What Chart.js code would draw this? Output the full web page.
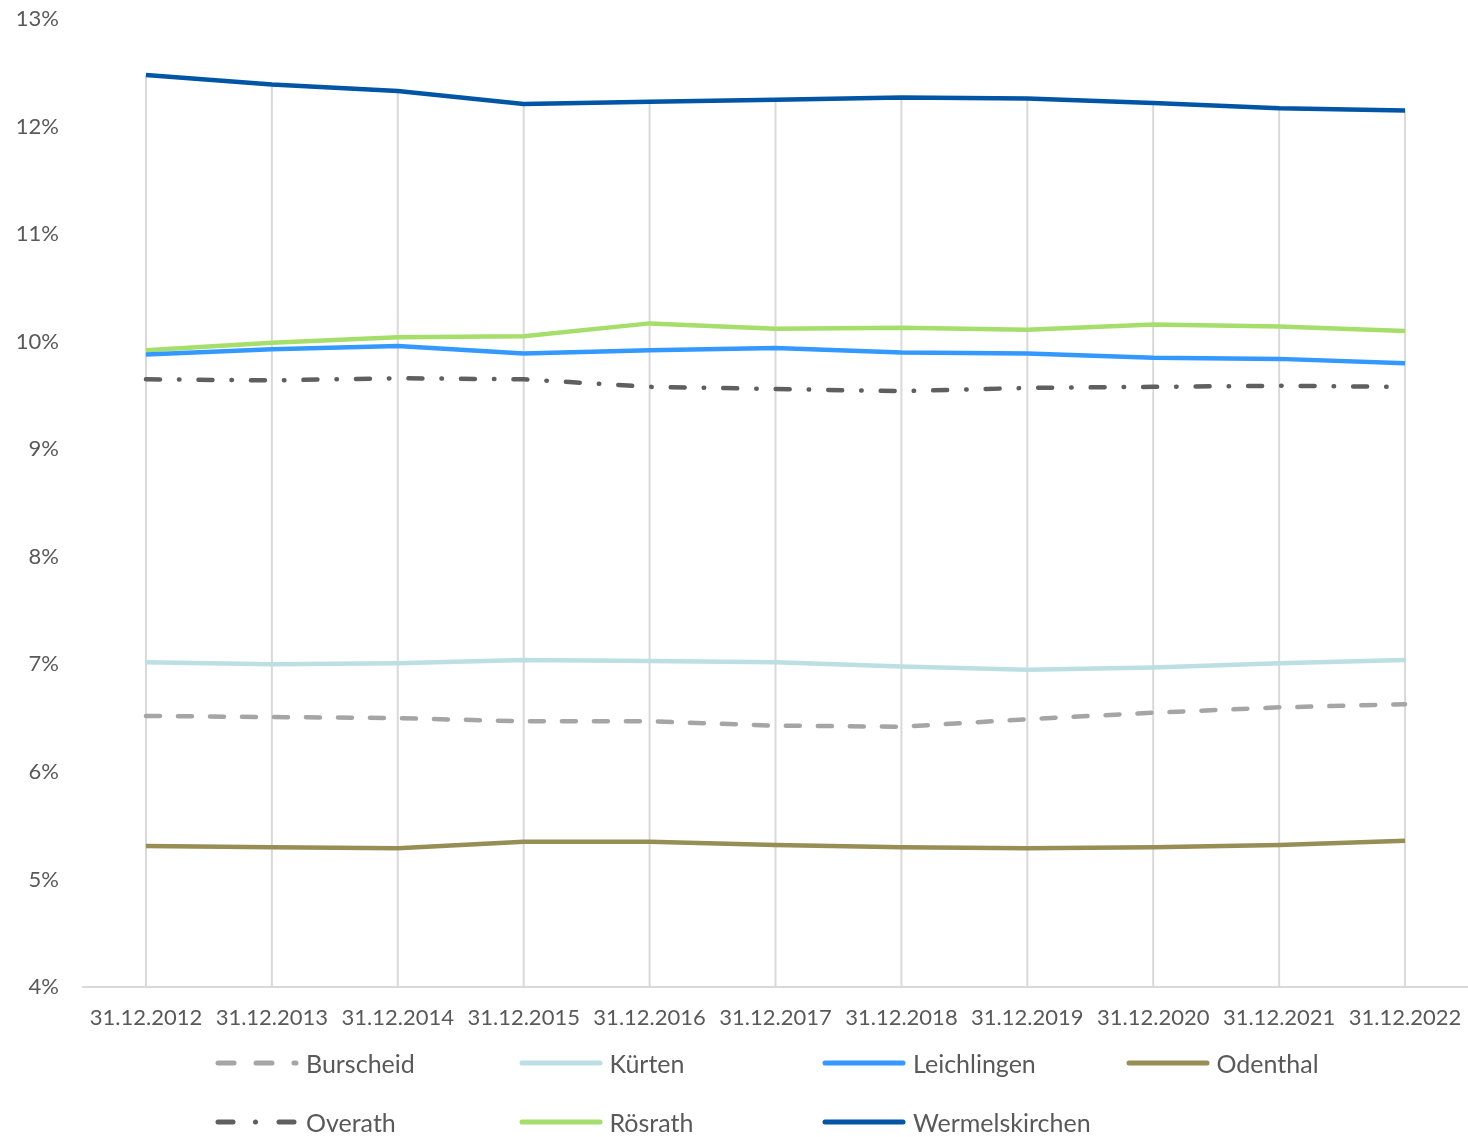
<!DOCTYPE html>
<html lang="de">
<head>
<meta charset="UTF-8">
<title>Anteil je Kommune</title>
<script src="https://cdn.jsdelivr.net/npm/chart.js"></script>
<style>
  html, body { margin: 0; padding: 0; background: #fff; }
  #wrap { position: relative; width: 1468px; height: 1137px; }
  #legend { position: absolute; left: 0; top: 0; width: 1468px; height: 1137px; pointer-events: none;
            font-family: Lato, sans-serif; font-size: 25px; color: #595959; }
  .item { position: absolute; display: flex; align-items: center; height: 30px; white-space: nowrap; }
  .item svg { margin-right: 7px; }
</style>
</head>
<body>
<div id="wrap">
  <canvas id="lineChart" width="1468" height="1137"></canvas>
  <div id="legend"></div>
</div>
<script>
// Stichtage
const labels = ['31.12.2012', '31.12.2013', '31.12.2014', '31.12.2015', '31.12.2016', '31.12.2017',
                '31.12.2018', '31.12.2019', '31.12.2020', '31.12.2021', '31.12.2022'];

// Werte in %
const burscheid      = [6.52, 6.51, 6.50, 6.47, 6.47, 6.43, 6.42, 6.49, 6.55, 6.60, 6.63];
const kuerten        = [7.02, 7.00, 7.01, 7.04, 7.03, 7.02, 6.98, 6.95, 6.97, 7.01, 7.04];
const leichlingen    = [9.88, 9.93, 9.96, 9.89, 9.92, 9.94, 9.90, 9.89, 9.85, 9.84, 9.80];
const odenthal       = [5.31, 5.30, 5.29, 5.35, 5.35, 5.32, 5.30, 5.29, 5.30, 5.32, 5.36];
const overath        = [9.65, 9.64, 9.66, 9.65, 9.58, 9.56, 9.54, 9.57, 9.58, 9.59, 9.58];
const roesrath       = [9.92, 9.99, 10.04, 10.05, 10.17, 10.12, 10.13, 10.11, 10.16, 10.14, 10.10];
const wermelskirchen = [12.48, 12.39, 12.33, 12.21, 12.23, 12.25, 12.27, 12.26, 12.22, 12.17, 12.15];

const yTicks = [4, 5, 6, 7, 8, 9, 10, 11, 12, 13];

const series = [
  { label: 'Burscheid', data: burscheid, color: '#A5A5A5', dash: [14, 18], legendDash: [16, 22] },
  { label: 'Kürten', data: kuerten, color: '#BBDFE3', dash: [] },
  { label: 'Leichlingen', data: leichlingen, color: '#3399FF', dash: [] },
  { label: 'Odenthal', data: odenthal, color: '#968E55', dash: [] },
  { label: 'Overath', data: overath, color: '#5F5F5F', dash: [14, 19, 0.5, 19], legendDash: [15, 22.5, 0.01, 23.5] },
  { label: 'Rösrath', data: roesrath, color: '#A5DE6A', dash: [] },
  { label: 'Wermelskirchen', data: wermelskirchen, color: '#0055A5', dash: [] },
];

// Lotlinien vom höchsten Punkt bis zur Achse (wie in Excel)
const dropLines = {
  id: 'dropLines',
  beforeDatasetsDraw(chart) {
    const { ctx, chartArea, scales } = chart;
    ctx.save();
    ctx.strokeStyle = '#D9D9D9';
    ctx.lineWidth = 2;
    labels.forEach((l, i) => {
      const top = Math.max(...series.map(s => s.data[i]));
      const x = scales.x.getPixelForValue(i);
      ctx.beginPath();
      ctx.moveTo(x, scales.y.getPixelForValue(top));
      ctx.lineTo(x, chartArea.bottom);
      ctx.stroke();
    });
    ctx.restore();
  }
};

const tickFont = { family: 'Lato', size: 22 };

new Chart(document.getElementById('lineChart').getContext('2d'), {
  type: 'line',
  data: {
    labels: labels,
    datasets: series.map(s => ({
      label: s.label,
      data: s.data,
      borderColor: s.color,
      backgroundColor: s.color,
      borderWidth: 4.5,
      borderDash: s.dash,
      borderCapStyle: s.dash.length ? 'round' : 'butt',
      pointRadius: 0,
      tension: 0,
      fill: false,
    })),
  },
  options: {
    responsive: false,
    animation: false,
    layout: { padding: { top: 19, right: -2, left: 0, bottom: 0 } },
    plugins: { legend: { display: false }, tooltip: { enabled: false } },
    scales: {
      x: {
        offset: true,
        grid: { display: false, drawTicks: false },
        border: { color: '#D9D9D9', width: 2 },
        ticks: { color: '#595959', font: tickFont, padding: 18, maxRotation: 0, autoSkip: false },
        afterFit: s => { s.height = 150; s.paddingLeft = 0; s.paddingRight = 0; },
      },
      y: {
        min: 4,
        max: 13,
        grid: { display: false, drawTicks: false },
        border: { display: false },
        afterBuildTicks: s => { s.ticks = yTicks.map(v => ({ value: v })); },
        ticks: { color: '#595959', font: tickFont, padding: 24, callback: v => v + '%' },
        afterFit: s => { s.width = 83; s.paddingTop = 0; s.paddingBottom = 0; },
      },
    },
  },
  plugins: [dropLines],
});

// Legende in festen Spalten
const legend = document.getElementById('legend');
series.forEach((s, i) => {
  const col = i % 4, row = Math.floor(i / 4);
  const item = document.createElement('div');
  item.className = 'item';
  item.style.left = (213 + col * 303.5) + 'px';
  item.style.top = (row ? 1107 : 1048) + 'px';
  const dash = s.legendDash || s.dash;
  item.innerHTML =
    '<svg width="86" height="10"><line x1="5" y1="5" x2="83" y2="5" stroke="' + s.color +
    '" stroke-width="5" stroke-linecap="round" stroke-dasharray="' + (dash.length ? dash.join(' ') : 'none') +
    '"/></svg><span>' + s.label + '</span>';
  legend.appendChild(item);
});
</script>
</body>
</html>
